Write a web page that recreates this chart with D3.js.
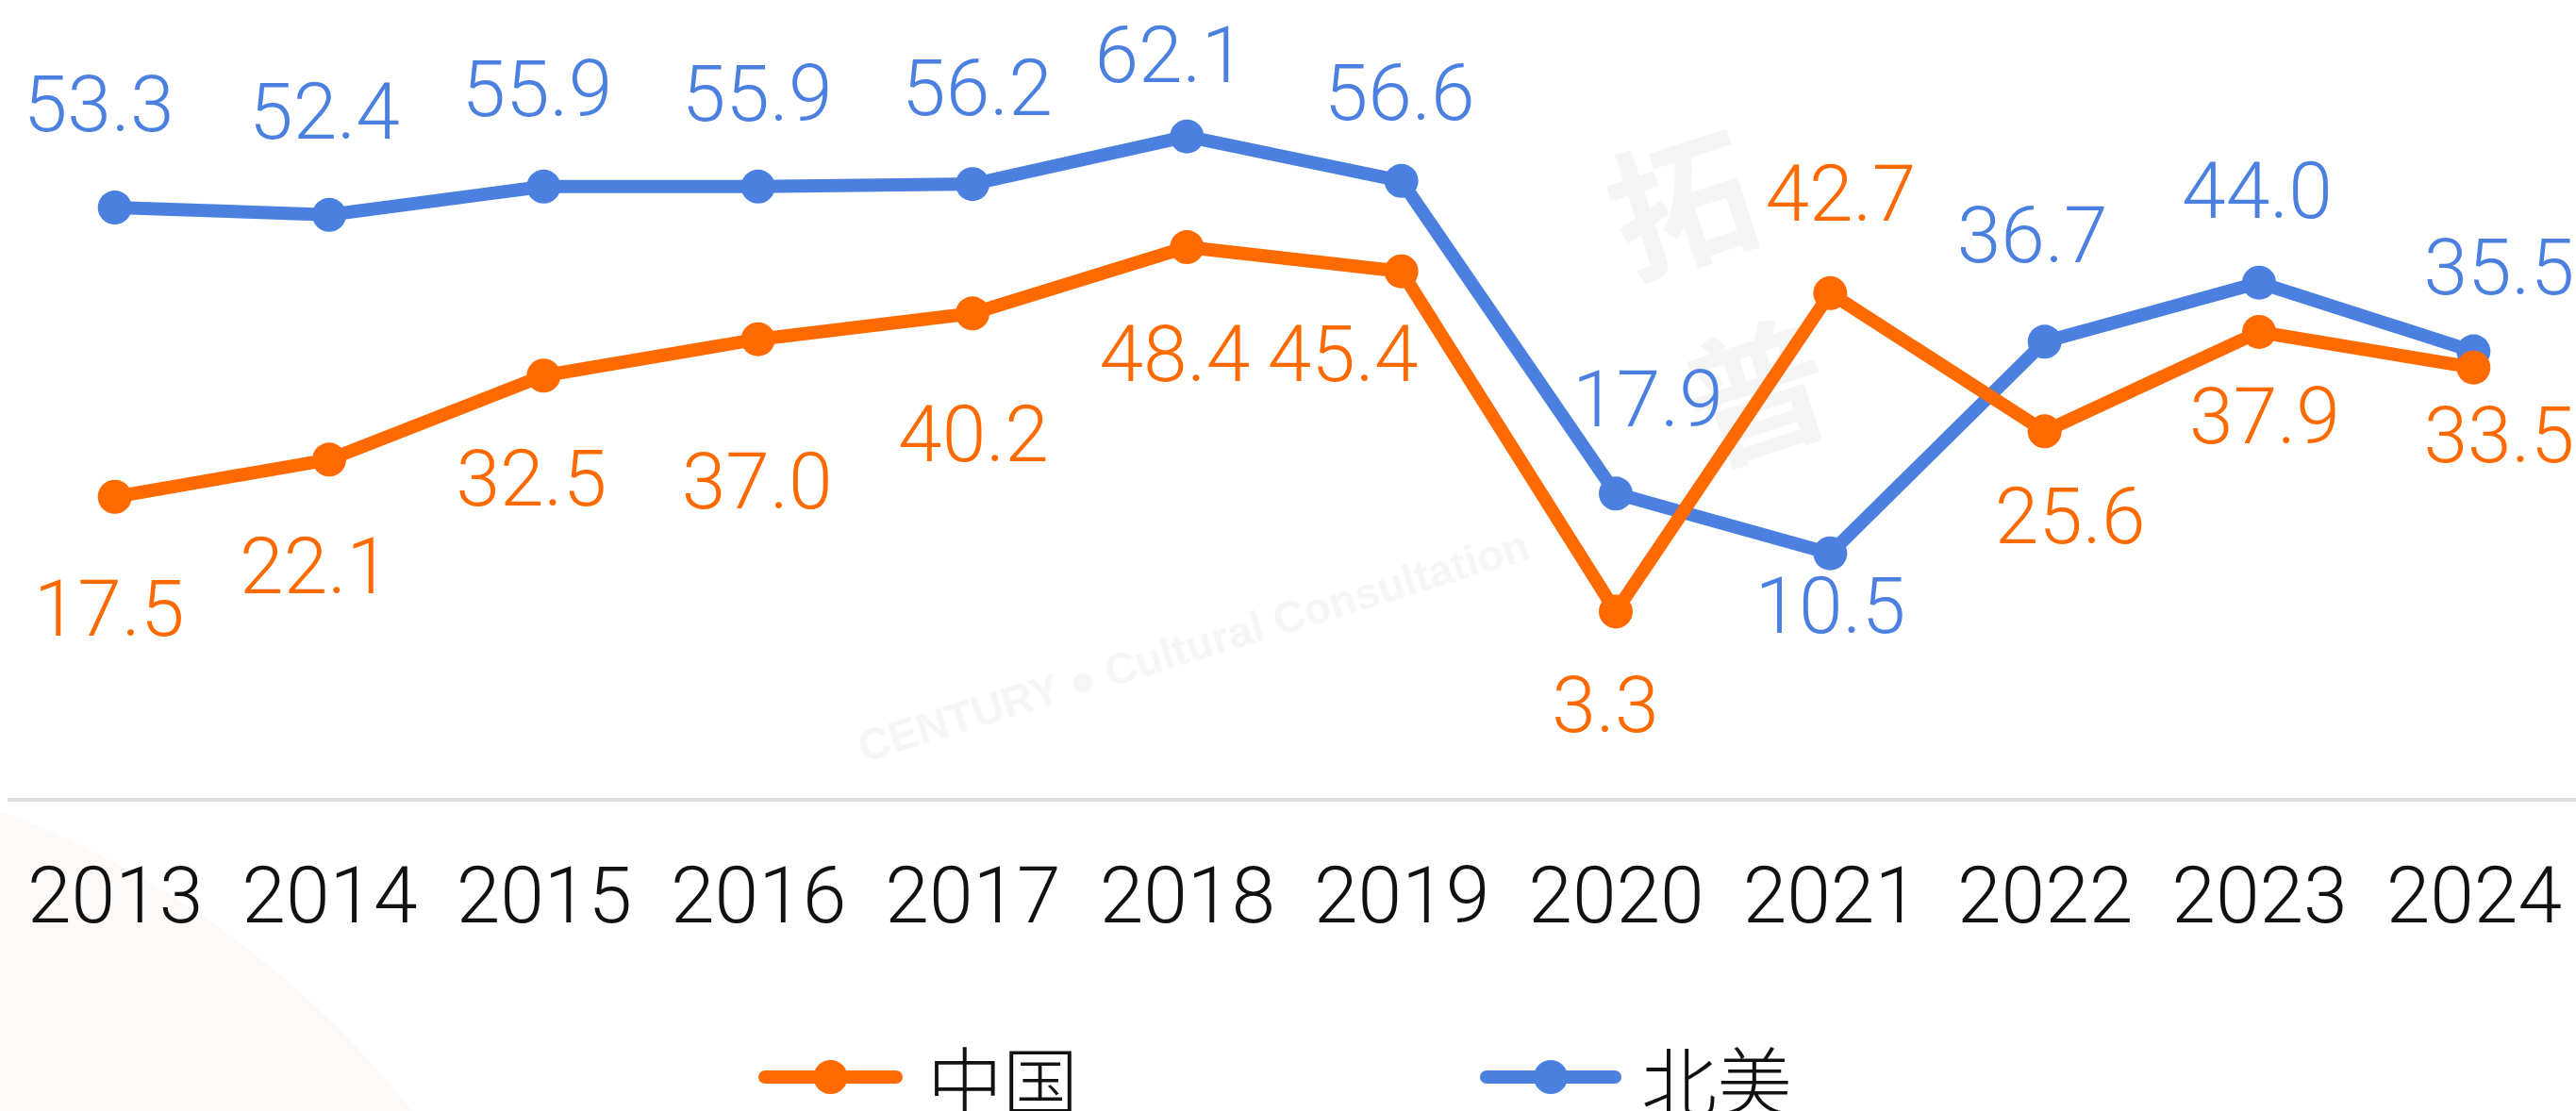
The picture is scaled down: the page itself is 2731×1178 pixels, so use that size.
<!DOCTYPE html>
<html>
<head>
<meta charset="utf-8">
<script src="https://cdn.jsdelivr.net/npm/d3@7"></script>
<style>
  html, body { margin: 0; padding: 0; background: #ffffff; overflow: hidden; }
  svg { display: block; }
</style>
</head>
<body>
<script>
// ---------- data ----------
const years = ["2013","2014","2015","2016","2017","2018","2019","2020","2021","2022","2023","2024"];
const chinaValues = [17.5, 22.1, 32.5, 37.0, 40.2, 48.4, 45.4, 3.3, 42.7, 25.6, 37.9, 33.5];
const northAmericaValues = [53.3, 52.4, 55.9, 55.9, 56.2, 62.1, 56.6, 17.9, 10.5, 36.7, 44.0, 35.5];
const seriesNames = ["中国", "北美"];
const yDomain = [-20, 70];

// ---------- layout (label offsets from their points, px) ----------
const chinaLabelOffsets = [[-6,147],[-15,142],[-13,138],[-1,179],[1,157],[-13,142],[-62,116],[-11,128],[11,-77],[27,119],[6,118],[27,100]];
const naLabelOffsets = [[-17,-81],[-5,-81],[-7,-75],[-1,-70],[5,-73],[-18,-58],[-2,-65],[34,-71],[0,84],[-13,-84],[-2,-69],[27,-61]];

const W = 2731, H = 1178;
const ORANGE = "#ff6a00", BLUE = "#4b80e1";
const numFont = "Roboto, 'Liberation Sans', Arial, sans-serif";
const numWeight = 300;
const cjkFont = "'Noto Sans CJK SC', 'Noto Sans', sans-serif";

const svg = d3.select("body").append("svg").attr("width", W).attr("height", H);

// faint background decoration
svg.append("circle").attr("cx", -350).attr("cy", 1800).attr("r", 1003).attr("fill", "#fdf9f6");

// faint watermark
const wm = svg.append("g").attr("fill", "#f5f5f5");
wm.append("text").attr("transform", "translate(1800,270) rotate(-18)")
  .attr("font-family", cjkFont).attr("font-size", 150).attr("font-weight", 700).attr("text-anchor", "middle").text("拓");
wm.append("text").attr("transform", "translate(1880,470) rotate(-18)")
  .attr("font-family", cjkFont).attr("font-size", 150).attr("font-weight", 700).attr("text-anchor", "middle").text("普");
wm.append("text").attr("transform", "translate(1270,700) rotate(-17)")
  .attr("font-family", "'Liberation Sans', Arial, sans-serif").attr("font-size", 46).attr("font-weight", 700).attr("text-anchor", "middle")
  .attr("fill", "#f6f6f6").text("CENTURY  ●  Cultural Consultation");

// ---------- scales ----------
const x = d3.scalePoint().domain(years).range([8, 2736]).padding(0.5);
const y = d3.scaleLinear().domain(yDomain).range([848, 77]);

// axis line + labels
const xAxis = d3.axisBottom(x).tickSize(0).tickPadding(0);
const axisG = svg.append("g").attr("transform", `translate(0,${y(yDomain[0])})`).call(xAxis);
axisG.select(".domain").attr("d", `M8,0H${W}`).attr("stroke", "#dcdcdc").attr("stroke-width", 4);
axisG.selectAll(".tick text")
  .attr("dy", null).attr("y", 130)
  .attr("font-family", numFont).attr("font-weight", numWeight).attr("font-size", 84).attr("fill", "#111");

// ---------- series ----------
const series = [
  { name: seriesNames[1], values: northAmericaValues, color: BLUE, offsets: naLabelOffsets },
  { name: seriesNames[0], values: chinaValues, color: ORANGE, offsets: chinaLabelOffsets }
];

const line = d3.line().x((d, i) => x(years[i])).y(d => y(d));

series.forEach(s => {
  const g = svg.append("g");
  g.append("path").datum(s.values).attr("d", line)
    .attr("fill", "none").attr("stroke", s.color).attr("stroke-width", 14)
    .attr("stroke-linejoin", "round").attr("stroke-linecap", "round");
  g.selectAll("circle").data(s.values).join("circle")
    .attr("cx", (d, i) => x(years[i])).attr("cy", d => y(d)).attr("r", 18).attr("fill", s.color);
});

series.forEach(s => {
  svg.append("g").selectAll("text").data(s.values).join("text")
    .attr("x", (d, i) => x(years[i]) + s.offsets[i][0])
    .attr("y", (d, i) => y(d) + s.offsets[i][1])
    .attr("text-anchor", "middle")
    .attr("font-family", numFont).attr("font-weight", numWeight).attr("font-size", 84).attr("fill", s.color)
    .text(d => d.toFixed(1));
});

// ---------- legend ----------
const legendItems = [
  { name: seriesNames[0], color: ORANGE, x0: 811, x1: 950, tx: 983 },
  { name: seriesNames[1], color: BLUE, x0: 1576, x1: 1712, tx: 1740 }
];
const ly = 1142;
legendItems.forEach(it => {
  const g = svg.append("g");
  g.append("line").attr("x1", it.x0).attr("x2", it.x1).attr("y1", ly).attr("y2", ly)
    .attr("stroke", it.color).attr("stroke-width", 14).attr("stroke-linecap", "round");
  g.append("circle").attr("cx", (it.x0 + it.x1) / 2).attr("cy", ly).attr("r", 18).attr("fill", it.color);
  g.append("text").attr("x", it.tx).attr("y", ly).attr("dominant-baseline", "central")
    .attr("font-family", cjkFont).attr("font-weight", 300).attr("font-size", 80).attr("fill", "#111").text(it.name);
});
</script>
</body>
</html>
